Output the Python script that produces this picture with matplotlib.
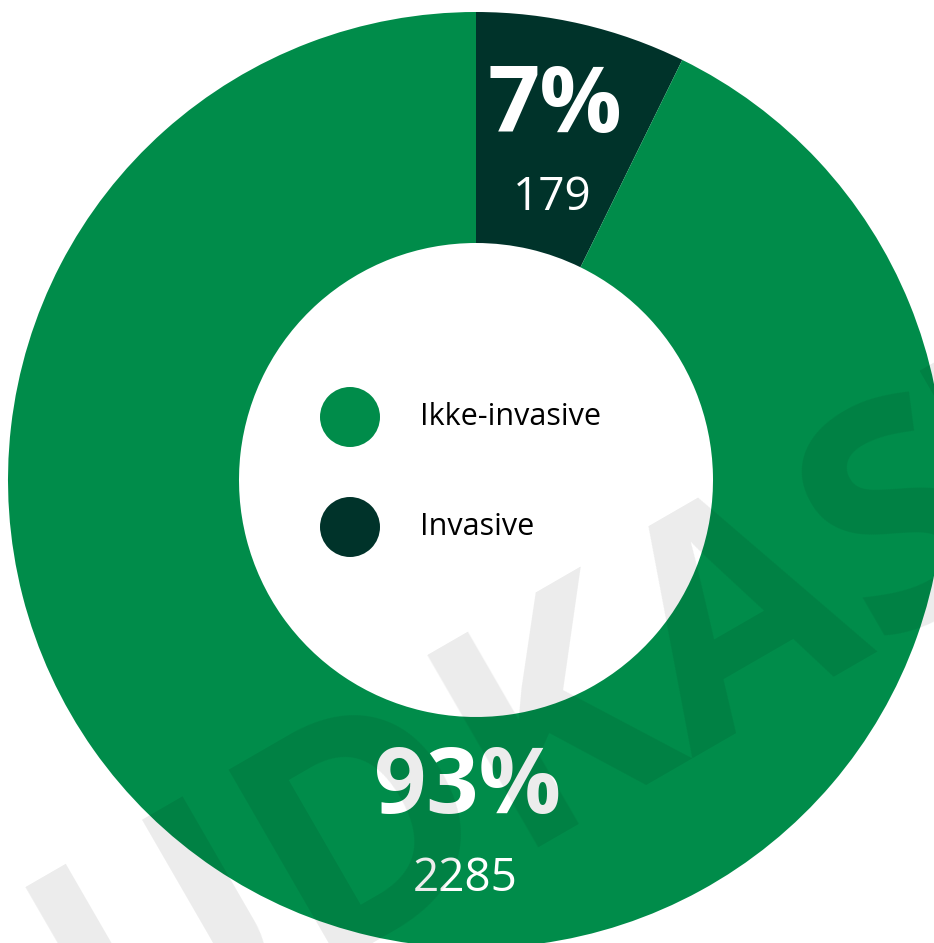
import matplotlib
matplotlib.use('Agg')
import numpy as np
import matplotlib.pyplot as plt
from matplotlib.patches import Circle

plt.rcParams['font.family'] = ['Open Sans', 'DejaVu Sans']

# data
categories = ['Invasive', 'Ikke-invasive']
counts = [179, 2285]
colors = ['#00332A', '#008C4A']
legend_order = ['Ikke-invasive', 'Invasive']
watermark = 'UDKAST'

W, H = 934, 943
CX, CY = 476, H - 480
R_OUT, R_IN = 468, 237


def slice_label_angle(start, share):
    """Mid angle of small slices; big slices get their label near the bottom"""
    if share > 0.5:
        return -91.5
    return start - 360 * share / 2


fig = plt.figure(figsize=(W / 100, H / 100), dpi=100, facecolor='white')
ax = fig.add_axes([0, 0, 1, 1])

ax.pie(counts, colors=colors, startangle=90, counterclock=False,
       radius=R_OUT, center=(CX, CY),
       wedgeprops=dict(width=R_OUT - R_IN, edgecolor='none', linewidth=0))
ax.set_xlim(0, W)
ax.set_ylim(0, H)
ax.set_aspect('equal')
ax.axis('off')

total = sum(counts)
start = 90.0
r_lab = 345
for cat, n, col in zip(categories, counts, colors):
    share = n / total
    ang = np.deg2rad(slice_label_angle(start, share))
    x, y = CX + r_lab * np.cos(ang), CY + r_lab * np.sin(ang)
    ax.text(x + 1, y + 36, f'{round(share * 100)}%', ha='center', va='center',
            fontsize=66, fontweight='bold', color='white', zorder=5)
    ax.text(x - 2, y - 54, str(n), ha='center', va='center',
            fontsize=33, color='white', zorder=5)
    start -= 360 * share

# legend inside the hole
col_of = dict(zip(categories, colors))
for i, cat in enumerate(legend_order):
    ly = H - 417 - i * 110
    ax.add_patch(Circle((350, ly), 30, color=col_of[cat], zorder=4, lw=0))
    ax.text(420, ly, cat, ha='left', va='center', fontsize=22, color='black', zorder=5)

# draft watermark on top
ax.text(644, H - 771, watermark, rotation=30, rotation_mode='anchor',
        ha='center', va='baseline', fontsize=223, fontweight='bold',
        color='black', alpha=0.08, zorder=10)

fig.savefig('out.png', dpi=100, facecolor='white')
